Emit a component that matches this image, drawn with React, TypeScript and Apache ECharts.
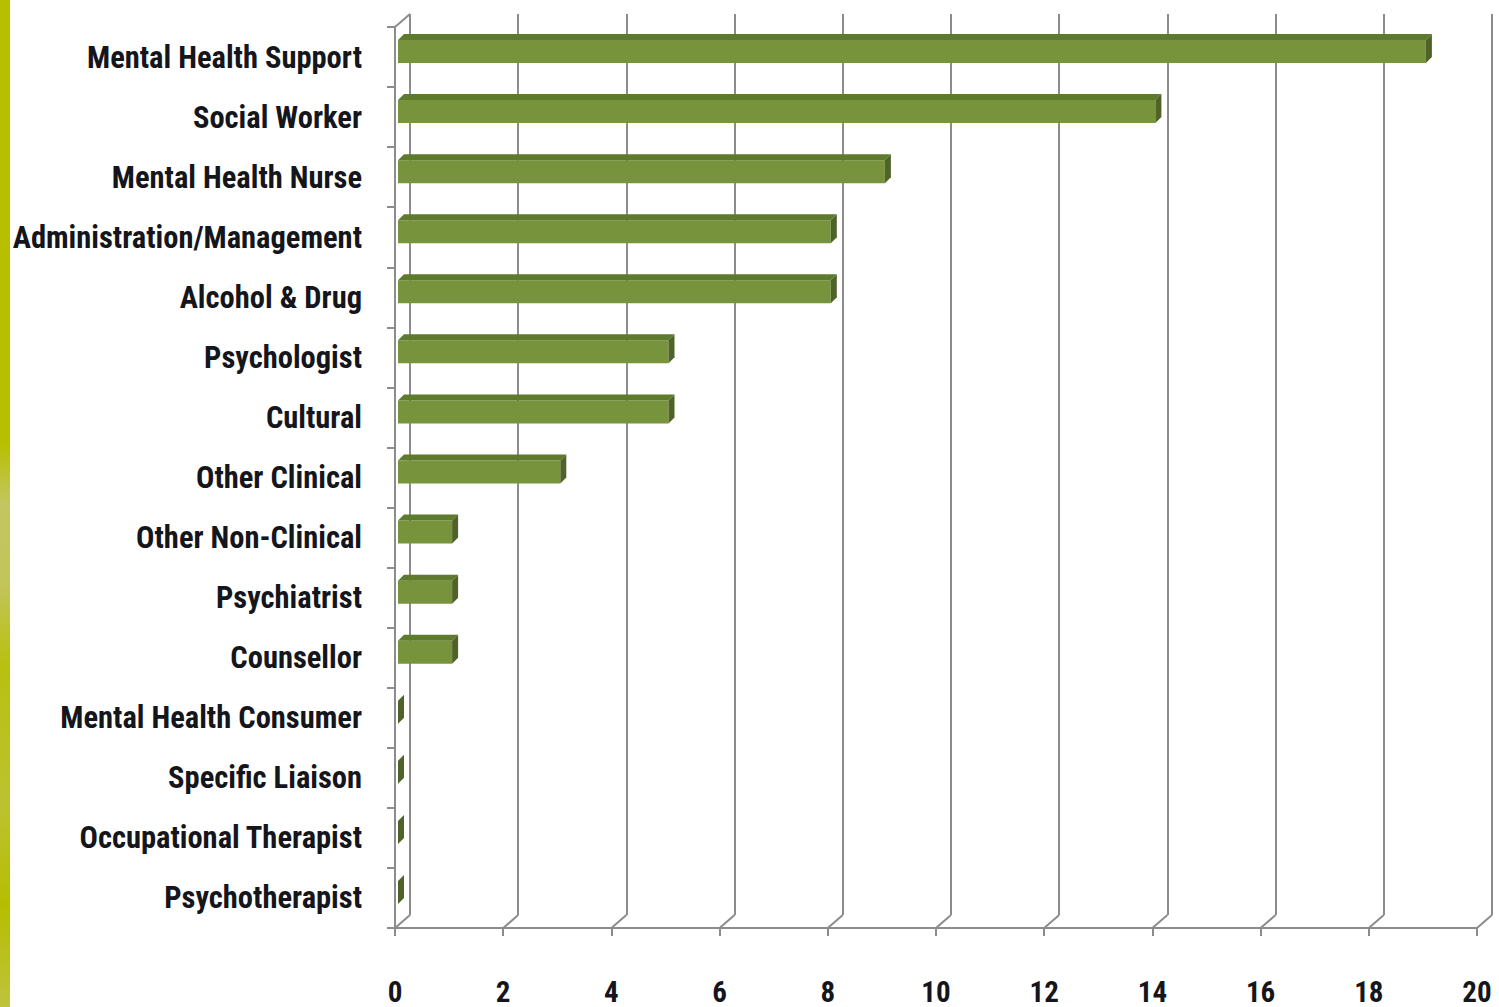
import React, { useEffect, useRef } from "react";
import * as echarts from "echarts";

const categories = [
  "Mental Health Support",
  "Social Worker",
  "Mental Health Nurse",
  "Administration/Management",
  "Alcohol & Drug",
  "Psychologist",
  "Cultural",
  "Other Clinical",
  "Other Non-Clinical",
  "Psychiatrist",
  "Counsellor",
  "Mental Health Consumer",
  "Specific Liaison",
  "Occupational Therapist",
  "Psychotherapist",
];
const values = [19, 14, 9, 8, 8, 5, 5, 3, 1, 1, 1, 0, 0, 0, 0];
const xTicks = [0, 2, 4, 6, 8, 10, 12, 14, 16, 18, 20];

const FONT = "'Liberation Sans Narrow', 'Roboto Condensed', 'DejaVu Sans Condensed', sans-serif";
const AXIS = "#8c8c8c";
const TEXT = "#15151c";
const DX = 15;
const DY = -13;

export default function App() {
  const ref = useRef<HTMLDivElement>(null);
  useEffect(() => {
    if (!ref.current) return;
    const chart = echarts.init(ref.current, undefined, { renderer: "svg" });
    const option: any = {
      animation: false,
      backgroundColor: "#ffffff",
      graphic: [
        {
          type: "rect",
          left: 0,
          top: 0,
          shape: { x: 0, y: 0, width: 10, height: 1007 },
          style: {
            fill: {
              type: "linear",
              x: 0,
              y: 0,
              x2: 0,
              y2: 1,
              colorStops: [
                { offset: 0, color: "#b8bf00" },
                { offset: 0.44, color: "#b8bf00" },
                { offset: 0.5, color: "#c3c660" },
                { offset: 0.58, color: "#c2c55a" },
                { offset: 0.66, color: "#b9c010" },
                { offset: 0.8, color: "#bcc230" },
                { offset: 0.9, color: "#b6bd00" },
                { offset: 1, color: "#bfc33e" },
              ],
            },
          },
          z: 10,
        },
      ],
      grid: [
        { left: 395, right: 22, top: 27, bottom: 79 },
        { left: 395 + DX, right: 22 - DX, top: 27 + DY, bottom: 79 - DY },
      ],
      xAxis: [
        {
          gridIndex: 0,
          type: "value",
          min: 0,
          max: 20,
          interval: 2,
          axisLine: { show: true, lineStyle: { color: AXIS, width: 2 } },
          axisTick: { show: true, length: 8, lineStyle: { color: AXIS, width: 2 } },
          splitLine: { show: false },
          axisLabel: {
            margin: 49,
            fontFamily: FONT,
            fontWeight: "bold",
            fontSize: 29,
            color: TEXT,
          },
        },
        {
          gridIndex: 1,
          type: "value",
          min: 0,
          max: 20,
          interval: 2,
          axisLine: { show: false },
          axisTick: { show: false },
          axisLabel: { show: false },
          splitLine: { show: true, lineStyle: { color: AXIS, width: 2 } },
        },
      ],
      yAxis: [
        {
          gridIndex: 0,
          type: "category",
          data: categories,
          inverse: true,
          axisLine: { show: true, lineStyle: { color: AXIS, width: 2 } },
          axisTick: { show: true, length: 8, lineStyle: { color: AXIS, width: 2 } },
          axisLabel: {
            margin: 33,
            fontFamily: FONT,
            fontWeight: "bold",
            fontSize: 30.5,
            color: TEXT,
          },
        },
        {
          gridIndex: 1,
          type: "value",
          min: 0,
          max: 1,
          show: false,
          splitLine: { show: false },
        },
      ],
      series: [
        {
          type: "custom",
          xAxisIndex: 0,
          yAxisIndex: 0,
          z: 1,
          silent: true,
          data: xTicks.map((v) => [v, 0]),
          encode: { x: 0, y: 1 },
          renderItem: (params: any, api: any) => {
            const cs = params.coordSys;
            const p = api.coord([api.value(0), 0]);
            const x = p[0];
            const yb = cs.y + cs.height;
            const children: any[] = [
              {
                type: "line",
                shape: { x1: x, y1: yb, x2: x + DX, y2: yb + DY },
                style: { stroke: AXIS, lineWidth: 2 },
              },
            ];
            if (api.value(0) === 0) {
              children.push({
                type: "line",
                shape: { x1: x, y1: cs.y, x2: x + DX, y2: cs.y + DY },
                style: { stroke: AXIS, lineWidth: 2 },
              });
            }
            return { type: "group", children };
          },
        },
        {
          type: "custom",
          xAxisIndex: 0,
          yAxisIndex: 0,
          z: 5,
          data: values.map((v, i) => [v, i]),
          encode: { x: 0, y: 1 },
          renderItem: (params: any, api: any) => {
            const idx = api.value(1);
            const start = api.coord([0, idx]);
            const end = api.coord([api.value(0), idx]);
            const band = api.size([0, 1])[1];
            const cy = start[1];
            const x0 = start[0] + 3;
            const x1 = end[0] + 3;
            const yTop = cy - band * 0.283;
            const yBot = cy + band * 0.1;
            const d = 6;
            return {
              type: "group",
              children: [
                {
                  type: "rect",
                  shape: { x: x0, y: yTop, width: x1 - x0, height: yBot - yTop },
                  style: { fill: "#77933c" },
                },
                {
                  type: "polygon",
                  shape: {
                    points: [
                      [x0, yTop],
                      [x0 + d, yTop - d],
                      [x1 + d, yTop - d],
                      [x1, yTop],
                    ],
                  },
                  style: { fill: "#5e7a2c" },
                },
                {
                  type: "polygon",
                  shape: {
                    points: [
                      [x1, yTop],
                      [x1 + d, yTop - d],
                      [x1 + d, yBot - d],
                      [x1, yBot],
                    ],
                  },
                  style: { fill: "#4f6228" },
                },
              ],
            };
          },
        },
      ],
    };
    chart.setOption(option);
    return () => chart.dispose();
  }, []);
  return (
    <div
      ref={ref}
      style={{ position: "fixed", left: 0, top: 0, width: 1499, height: 1007 }}
    />
  );
}
